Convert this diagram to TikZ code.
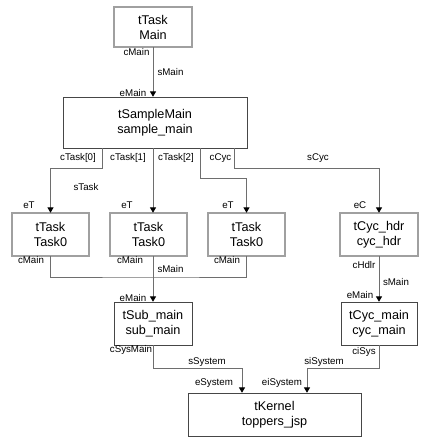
\documentclass[tikz,border=0pt]{standalone}
\usepackage{fontspec}
\setmainfont{Liberation Sans}
\usetikzlibrary{arrows.meta}
\definecolor{wire_gray}{RGB}{110,110,110}
\definecolor{frame_gray}{RGB}{70,70,70}
\definecolor{band_gray}{RGB}{160,160,160}

\tikzset{
	cell/.style={rectangle,draw=frame_gray,fill=white,align=center,inner sep=1pt,
		font=\fontsize{9.5}{11.25}\selectfont},
	active/.style={cell,draw=black,double=band_gray,double distance=1.3pt,line width=0.4pt},
	wire/.style={wire_gray,line width=0.6pt},
	conn/.style={wire,-{Triangle[width=4.5pt,length=4pt,color=black]}},
	port/.style={inner sep=0pt,font=\fontsize{7.3}{8}\selectfont}
}

\begin{document}
\begin{tikzpicture}[x=0.75pt,y=-0.75pt]
	\useasboundingbox (0,0) rectangle (429,446);

	\node[active,minimum width=58.5pt,minimum height=30pt] (main) at (153,27) {tTask\\Main};
	\node[cell,minimum width=138pt,minimum height=38.25pt] (sample) at (155,122.5) {tSampleMain\\sample\_main};
	\node[active,minimum width=57.75pt,minimum height=32.25pt] (task0) at (50.5,234.5) {tTask\\Task0};
	\node[active,minimum width=57.75pt,minimum height=32.25pt] (task1) at (148.5,234.5) {tTask\\Task0};
	\node[active,minimum width=57.75pt,minimum height=32.25pt] (task2) at (246.5,234.5) {tTask\\Task0};
	\node[active,minimum width=58.5pt,minimum height=32.25pt] (hdr) at (379,234.5) {tCyc\_hdr\\cyc\_hdr};
	\node[cell,minimum width=58.5pt,minimum height=32.25pt] (sub) at (153,323.5) {tSub\_main\\sub\_main};
	\node[cell,minimum width=57pt,minimum height=32.25pt] (cycm) at (379,323.5) {tCyc\_main\\cyc\_main};
	\node[cell,minimum width=129.75pt,minimum height=32.25pt] (kernel) at (274.5,414.5) {tKernel\\toppers\_jsp};

	% bends of the connectors
	\coordinate (bT0) at (102,168);
	\coordinate (bT2) at (200,178);
	\coordinate (bCyc) at (234,168);
	\coordinate (bJoin) at (153,277);
	\coordinate (bSys) at (242,368);
	\coordinate (biSys) at (307,368);

	\draw[conn] (main.south) -- (sample.north -| main.south);
	\draw[conn] (sample.south -| bT0) -- (bT0) -| (task0.north);
	\draw[conn] (sample.south -| main.south) -- (task1.north -| main.south);
	\draw[conn] (sample.south -| bT2) -- (bT2) -| (task2.north);
	\draw[conn] (sample.south -| bCyc) -- (bCyc) -| (hdr.north);
	\draw[wire] (task0.south) |- (bJoin) -| (task2.south);
	\draw[conn] (task1.south -| sub.north) -- (sub.north);
	\draw[conn] (hdr.south) -- (cycm.north);
	\draw[conn] (sub.south) |- (bSys) -- (kernel.north -| bSys);
	\draw[conn] (cycm.south) |- (biSys) -- (kernel.north -| biSys);

	% port and signature labels
	\foreach \n/\x/\y/\t in {a/136.5/52/cMain,b/170.5/72/sMain,c/133/93/eMain,
		d/78/158/cTask[0],e/128/158/cTask[1],f/176/158/cTask[2],g/220.5/158/cCyc,
		h/318/158/sCyc,i/86/187/sTask,j/29/205/eT,k/127/205/eT,l/228/205/eT,
		m/360/205/eC,n/31/260/cMain,o/130/260/cMain,p/227/260/cMain,
		q/170.5/269/sMain,r/133/298/eMain,s/131/350/cSysMain,t/207/362/sSystem,
		u/214/383/eSystem,v/282/383/eiSystem,w/324/362/siSystem,x/364/352/ciSys,
		y/364/265/cHdlr,z/396/282/sMain,zz/360/295/eMain}
		\node[port] (lbl\n) at (\x,\y) {\t};
\end{tikzpicture}
\end{document}
